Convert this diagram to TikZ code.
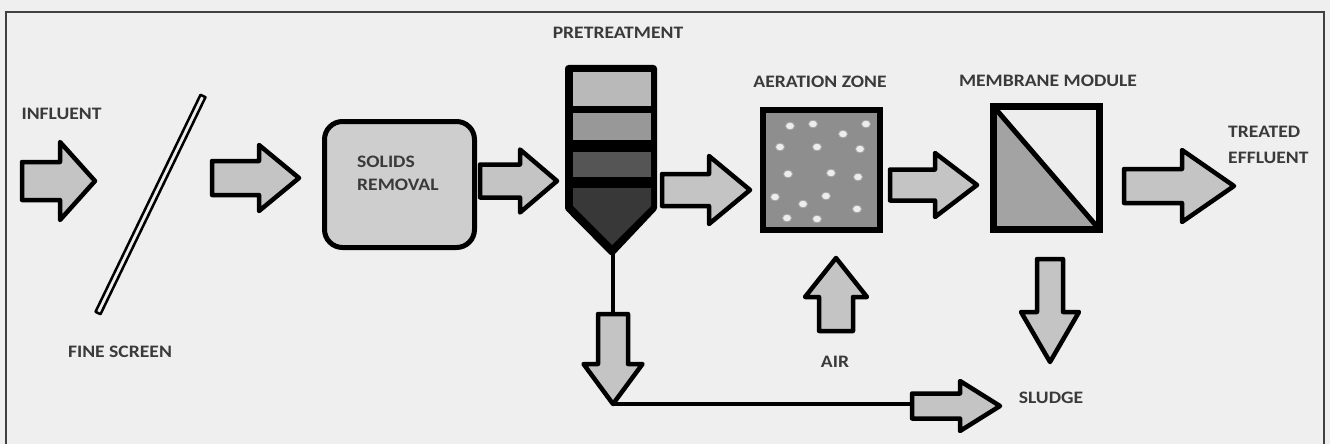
\documentclass[tikz,border=0pt]{standalone}
\usepackage{fontspec}
\setmainfont[FakeStretch=1.12]{Carlito}
\usetikzlibrary{calc}
\definecolor{bg}{HTML}{EFEFEF}
\definecolor{ink}{HTML}{3A3A3A}
\definecolor{flowgray}{HTML}{C4C4C4}
\definecolor{solidgray}{HTML}{CECECE}
\definecolor{airgray}{HTML}{8E8E8E}
\definecolor{memgray}{HTML}{A3A3A3}
\definecolor{memlight}{HTML}{EDEDED}
\definecolor{layerA}{HTML}{B9B9B9}
\definecolor{layerB}{HTML}{989898}
\definecolor{layerC}{HTML}{555555}
\definecolor{layerD}{HTML}{383838}
\tikzset{
    flow/.style =   {fill=flowgray,
                    draw=black,
                    line width=4.5pt,
                    line join=round},
    tag/.style =    {text=ink,
                    font=\fontsize{17.5}{23}\selectfont\bfseries,
                    inner sep=0pt},
    unit/.style =   {rectangle,
                    draw=black,
                    inner sep=0pt,
                    outer sep=0pt},
    solidsbox/.style = {unit,
                    rounded corners=18pt,
                    fill=solidgray,
                    line width=5pt,
                    minimum width=150pt,
                    minimum height=126pt},
    aerbox/.style = {unit,
                    fill=airgray,
                    line width=6pt,
                    minimum width=117pt,
                    minimum height=120pt},
    membox/.style = {unit,
                    fill=memlight,
                    line width=7pt,
                    minimum width=106pt,
                    minimum height=123pt,
                    path picture={
                        \fill[memgray] (path picture bounding box.north west)
                            -- (path picture bounding box.south east)
                            -- (path picture bounding box.south west) -- cycle;
                        \draw[line width=5pt] (path picture bounding box.north west)
                            -- (path picture bounding box.south east);}},
    bubble/.style = {fill=memlight,
                    draw=black!35,
                    line width=0.8pt},
    pipe/.style =   {draw=black,
                    line width=3.5pt}}

% block arrow: name, tail x, tail y, angle, length, half shaft, half head, head length
\newcommand{\fatarrow}[8]{%
    \draw[flow, shift={(#2,#3)}, rotate=#4]
        (0,-#6) -- (#5-#8,-#6) -- (#5-#8,-#7) -- (#5,0)
        -- (#5-#8,#7) -- (#5-#8,#6) -- (0,#6) -- cycle;
    \coordinate (#1-tail) at ($(#2,#3)$);
    \path[shift={(#2,#3)}, rotate=#4] (#5,0) coordinate (#1-tip);}

\begin{document}
\begin{tikzpicture}[x=1pt,y=-1pt]
    \useasboundingbox (0,0) rectangle (1330,444);
    \fill[bg] (0,0) rectangle (1330,444);
    \draw[black!75, line width=1.5pt] (6,444) -- (6,12) -- (1324,12) -- (1324,444);

    % labels
    \node[tag, anchor=base] (influent)  at (61.5,119) {INFLUENT};
    \node[tag, anchor=base] (finescreen) at (120,357) {FINE SCREEN};
    \node[tag, anchor=base] (pretreat)  at (618,39)  {PRETREATMENT};
    \node[tag, anchor=base] (aerlabel)  at (820,87)  {AERATION ZONE};
    \node[tag, anchor=base] (memlabel)  at (1048,86) {MEMBRANE MODULE};
    \node[tag, anchor=base] (air)       at (835,367) {AIR};
    \node[tag, anchor=base] (sludge)    at (1051,403) {SLUDGE};
    \node[tag, anchor=base west] (treated)  at (1228,137) {TREATED};
    \node[tag, anchor=base west] (effluent) at (1228,163) {EFFLUENT};

    % fine screen
    \draw[fill=memlight, line width=2.5pt, line join=round]
        (95.5,311.8) -- (200.5,94.8) -- (205.5,97.2) -- (100.5,314.2) -- cycle;

    % units
    \node[solidsbox] (solids) at (399.5,184.5) {};
    \node[tag, anchor=base west] (solids1) at (357,167) {SOLIDS};
    \node[tag, anchor=base west] (solids2) at (357,190) {REMOVAL};

    \draw[fill=black, line width=7pt, line join=round]
        (568.5,68.5) -- (653.5,68.5) -- (653.5,208) -- (612,252) -- (568.5,208) -- cycle;
    \fill[layerA] (573,72) rectangle (651,106);
    \fill[layerB] (573,113) rectangle (651,140);
    \fill[layerC] (573,152) rectangle (651,177);
    \fill[layerD] (573,188) -- (651,188) -- (651,206) -- (612,245) -- (573,206) -- cycle;
    \coordinate (cone) at (613,254);

    \node[aerbox] (aeration) at (821.5,170) {};
    \foreach \bx/\by in {790/126, 813/124, 866/124, 843/134, 780/147, 817/147,
                         860/149, 788/174, 831/173, 858/177, 775/197, 826/196,
                         803/204, 787/218, 817/219, 857/209}
        \draw[bubble] (\bx,\by) ellipse (4.5 and 3.8);

    \node[membox] (membrane) at (1046.5,168) {};

    % flows
    \fatarrow{inf}{22}{181}{0}{73}{19}{39}{35}
    \fatarrow{scr}{212}{178}{0}{87}{17}{33}{40}
    \fatarrow{sol}{480}{181}{0}{77}{16.5}{31.5}{37}
    \fatarrow{pre}{662}{190}{0}{88}{16}{34}{41}
    \fatarrow{aer}{890}{185}{0}{87}{15.5}{32}{42}
    \fatarrow{out}{1124}{186}{0}{110}{17}{36}{52}
    \fatarrow{air}{836}{331}{90}{73}{17}{31}{39}
    \fatarrow{msl}{1050}{259}{-90}{103}{13}{29}{50}
    \fatarrow{psl}{613}{314}{-90}{90}{15}{29.5}{40}
    \fatarrow{slg}{912}{406}{0}{88}{12.5}{25}{40}
    \draw[pipe] (cone) -- (psl-tail);
    \draw[pipe] (psl-tip) -- (psl-tip -| slg-tail);
\end{tikzpicture}
\end{document}
